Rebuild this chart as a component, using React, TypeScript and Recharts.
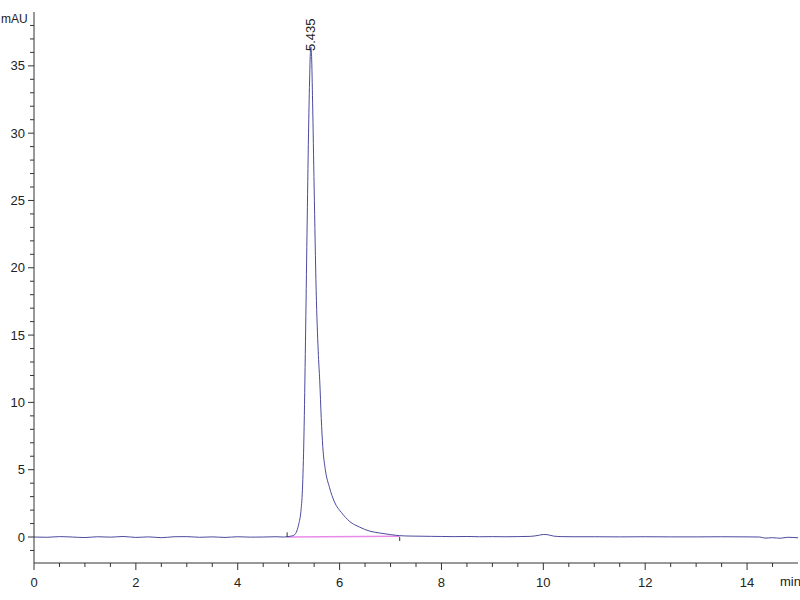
import { LineChart, Line, XAxis, YAxis, ReferenceDot, ReferenceLine, Label } from 'recharts'

// retention time (min) and absorbance (mAU)
const TIMES = [
  0, 0.25, 0.5, 0.75, 1, 1.25, 1.5, 1.75, 2, 2.25, 2.5, 2.75, 3, 3.25, 3.5, 3.75, 4, 4.25, 4.5, 4.75,
  4.9, 4.97, 5.02, 5.08, 5.12, 5.16, 5.2, 5.24, 5.27, 5.3, 5.33, 5.36, 5.39, 5.41, 5.425, 5.435,
  5.45, 5.47, 5.5, 5.54, 5.58, 5.61, 5.64, 5.67, 5.72, 5.8, 5.9, 6.04, 6.2, 6.39, 6.58, 6.78, 7.0,
  7.18, 7.4, 7.8, 8.0, 8.25, 8.5, 8.75, 9.0, 9.25, 9.5, 9.75, 9.9, 10.0, 10.1, 10.2, 10.35, 10.6,
  11.0, 11.5, 12.0, 12.5, 13.0, 13.5, 14.0, 14.25, 14.35, 14.5, 14.65, 14.8, 15.0,
]
const MAU = [
  0.0, -0.02, 0.03, 0.0, -0.04, 0.02, -0.01, 0.04, -0.03, 0.01, -0.05, 0.02, 0.03, -0.02, 0.01, -0.03, 0.02, -0.01, 0.0, 0.02,
  0.0, 0.02, 0.05, 0.1, 0.18, 0.45, 1.0, 1.9, 3.5, 7.5, 14.5, 22.5, 30.0, 33.8, 35.9, 36.4,
  35.7, 32.3, 26.0, 18.3, 13.8, 11.6, 8.8, 6.7, 5.0, 3.7, 2.6, 1.8, 1.15, 0.74, 0.45, 0.3, 0.18,
  0.1, 0.07, 0.05, 0.04, 0.03, 0.04, 0.02, 0.03, 0.02, 0.03, 0.05, 0.12, 0.19, 0.16, 0.07, 0.03, 0.02,
  0.02, 0.01, 0.02, 0.01, 0.01, 0.02, 0.01, 0.0, -0.08, -0.05, -0.09, -0.02, -0.06,
]

// integration baseline under the peak
const BASE_T = [4.97, 7.18]
const BASE_V = [0.0, 0.06]

const PEAK_T = 5.435
const PEAK_V = 36.4
const PEAK_LABEL = '5.435'

const X_TICKS = [0, 0.5, 1, 1.5, 2, 2.5, 3, 3.5, 4, 4.5, 5, 5.5, 6, 6.5, 7, 7.5, 8, 8.5, 9, 9.5, 10, 10.5, 11, 11.5, 12, 12.5, 13, 13.5, 14, 14.5]
const X_MAJOR = [0, 2, 4, 6, 8, 10, 12, 14]
const Y_TICKS = [-1, 0, 1, 2, 3, 4, 5, 6, 7, 8, 9, 10, 11, 12, 13, 14, 15, 16, 17, 18, 19, 20, 21, 22, 23, 24, 25, 26, 27, 28, 29, 30, 31, 32, 33, 34, 35, 36, 37, 38]
const Y_MAJOR = [0, 5, 10, 15, 20, 25, 30, 35]

const data = TIMES.map((t, i) => ({ t, v: MAU[i] }))
const baseData = BASE_T.map((t, i) => ({ t, b: BASE_V[i] }))

const AXIS = '#333'
const TRACE = '#4b4b9e'
const FONT = "'Liberation Sans Narrow', 'Liberation Sans', Arial, sans-serif"

const YTick = (props: any) => {
  const { x, y, payload } = props
  const major = Y_MAJOR.includes(payload.value)
  return (
    <g>
      <line x1={x - (major ? 6 : 4)} x2={x} y1={y} y2={y} stroke={AXIS} />
      {major && (
        <text x={x - 9} y={y} dy={4.5} textAnchor="end" fontSize={13} fontFamily={FONT} fill="#222">
          {payload.value}
        </text>
      )}
    </g>
  )
}

const XTick = (props: any) => {
  const { x, y, payload } = props
  const major = X_MAJOR.includes(payload.value)
  return (
    <g>
      <line x1={x} x2={x} y1={y} y2={y + (major ? 7 : 4)} stroke={AXIS} />
      {major && (
        <text x={x} y={y + 24} textAnchor="middle" fontSize={13} fontFamily={FONT} fill="#222">
          {payload.value}
        </text>
      )}
    </g>
  )
}

const PeakLabel = (props: any) => {
  const { viewBox } = props
  const cx = viewBox.x + viewBox.width / 2
  const cy = viewBox.y + 4
  return (
    <text
      x={cx}
      y={cy}
      transform={`rotate(-90, ${cx}, ${cy})`}
      textAnchor="start"
      dy={4.5}
      fontSize={13}
      fontFamily={FONT}
      fill="#222"
    >
      {PEAK_LABEL}
    </text>
  )
}

export default function App() {
  return (
    <div style={{ position: 'absolute', left: 0, top: 0, width: 800, height: 600, background: '#fff' }}>
      <LineChart width={800} height={600} data={data} margin={{ top: 12, right: 2, bottom: 0, left: 0 }}>
        <XAxis
          type="number"
          dataKey="t"
          domain={[0, 15]}
          ticks={X_TICKS}
          interval={0}
          allowDataOverflow
          height={37}
          tickSize={0}
          tickMargin={0}
          tickLine={false}
          axisLine={{ stroke: AXIS }}
          tick={XTick}
        />
        <YAxis
          type="number"
          domain={[-1.93, 39]}
          ticks={Y_TICKS}
          interval={0}
          allowDataOverflow
          width={34}
          tickSize={0}
          tickMargin={0}
          tickLine={false}
          axisLine={{ stroke: AXIS }}
          tick={YTick}
        />
        <Line
          data={baseData}
          dataKey="b"
          type="linear"
          stroke="#e98ae9"
          strokeWidth={1.5}
          dot={false}
          isAnimationActive={false}
        />
        <Line dataKey="v" type="monotone" stroke={TRACE} strokeWidth={1} dot={false} isAnimationActive={false} />
        <ReferenceLine segment={[{ x: BASE_T[0], y: 0 }, { x: BASE_T[0], y: 0.35 }]} stroke={AXIS} />
        <ReferenceLine segment={[{ x: BASE_T[1], y: 0 }, { x: BASE_T[1], y: -0.3 }]} stroke={AXIS} />
        <ReferenceDot x={PEAK_T} y={PEAK_V} r={0} fill="none" stroke="none">
          <Label content={PeakLabel} />
        </ReferenceDot>
      </LineChart>
      <span style={{ position: 'absolute', left: 1, top: 12, fontSize: 12, fontFamily: FONT, color: '#222' }}>mAU</span>
      <span style={{ position: 'absolute', left: 780, top: 574, fontSize: 13, fontFamily: FONT, color: '#222' }}>min</span>
    </div>
  )
}
